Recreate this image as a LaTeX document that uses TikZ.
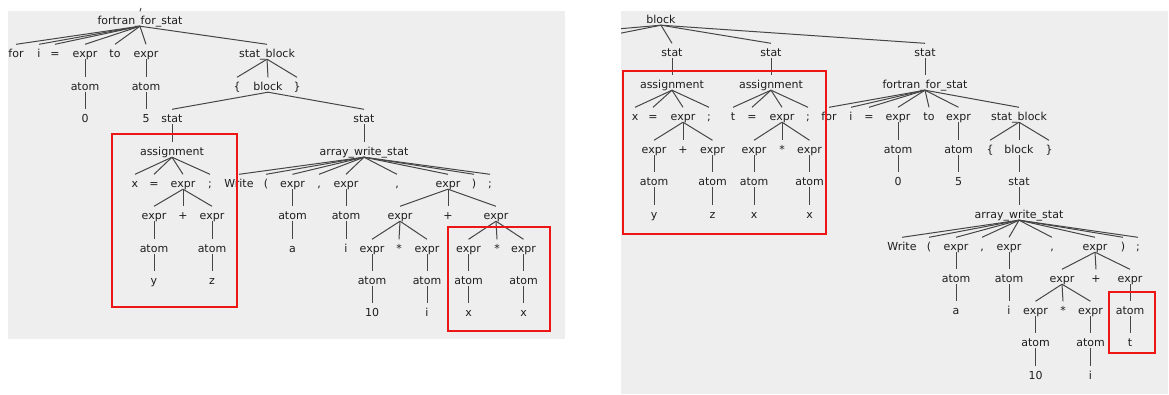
\documentclass[tikz,border=0pt]{standalone}
\usepackage{fontspec}
\setmainfont{DejaVu Sans}
\definecolor{bg}{HTML}{EEEEEE}
\definecolor{txt}{HTML}{1E1E1E}
\definecolor{edge}{HTML}{464646}
\definecolor{hlred}{HTML}{EE1515}
\tikzset{
  t/.style={anchor=base, yshift=-4pt, text height=12pt, text depth=1.5pt,
    inner xsep=1pt, inner ysep=0.5pt, font=\fontsize{11}{13}\selectfont, text=txt},
  e/.style={draw=edge, line width=1pt},
  hl/.style={draw=hlred, line width=1.6pt},
  panel/.style={fill=bg, draw=none}
}
\newcommand\tedges[2]{\foreach \c in {#2}{\draw[e] (#1.south) -- (\c.north);}}
\begin{document}
\begin{tikzpicture}[x=1pt,y=-1pt]
\useasboundingbox (0,0) rectangle (1169,394);
\fill[panel] (8,11) rectangle (565,339);
\fill[panel] (621,11) rectangle (1168,394);

% ---------------- left tree ----------------
\node[t] (L0) at (140,20) {fortran\_for\_stat};
\coordinate (Ltop) at (141,8);
\node[t] (Lfor) at (16,53) {for};
\node[t] (Li) at (39,53) {i};
\node[t] (Leq) at (55,53) {=};
\node[t] (Le1) at (85,53) {expr};
\node[t] (Lto) at (115,53) {to};
\node[t] (Le2) at (146,53) {expr};
\node[t] (Lsb) at (267,53) {stat\_block};
\node[t] (La1) at (85,86) {atom};
\node[t] (La2) at (146,86) {atom};
\node[t] (Llb) at (237,86) {\{};
\node[t] (Lblk) at (268,86) {block};
\node[t] (Lrb) at (297,86) {\}};
\node[t] (L0v) at (85,118) {0};
\node[t] (L5v) at (146,118) {5};
\node[t] (Ls1) at (172,118) {stat};
\node[t] (Ls2) at (364,118) {stat};
\node[t] (Lasg) at (172,151) {assignment};
\node[t] (Laws) at (364,151) {array\_write\_stat};
\node[t] (Lx) at (135,183) {x};
\node[t] (Leq2) at (154,183) {=};
\node[t] (Lex) at (183,183) {expr};
\node[t] (Lsc) at (210,183) {;};
\node[t] (LW) at (239,183) {Write};
\node[t] (Llp) at (266,183) {(};
\node[t] (Lwe1) at (292.5,183) {expr};
\node[t] (Lcm1) at (319,183) {,};
\node[t] (Lwe2) at (346,183) {expr};
\node[t] (Lcm2) at (397,183) {,};
\node[t] (Lwe3) at (448,183) {expr};
\node[t] (Lrp) at (474,183) {)};
\node[t] (Lsc2) at (490,183) {;};
\node[t] (Lex1) at (154,215) {expr};
\node[t] (Lpl) at (183,215) {+};
\node[t] (Lex2) at (212,215) {expr};
\node[t] (Lwa1) at (292.5,215) {atom};
\node[t] (Lwa2) at (346,215) {atom};
\node[t] (Lm1) at (400,215) {expr};
\node[t] (Lpl2) at (448,215) {+};
\node[t] (Lm2) at (496,215) {expr};
\node[t] (Laa1) at (154,248) {atom};
\node[t] (Laa2) at (212,248) {atom};
\node[t] (Lav) at (292.5,248) {a};
\node[t] (Liv) at (346,248) {i};
\node[t] (Lm1a) at (372,248) {expr};
\node[t] (Lst1) at (399,248) {*};
\node[t] (Lm1b) at (427,248) {expr};
\node[t] (Lm2a) at (468.5,248) {expr};
\node[t] (Lst2) at (497,248) {*};
\node[t] (Lm2b) at (523.5,248) {expr};
\node[t] (Ly) at (154,280) {y};
\node[t] (Lz) at (212,280) {z};
\node[t] (Lq1) at (372,280) {atom};
\node[t] (Lq2) at (427,280) {atom};
\node[t] (Lq3) at (468.5,280) {atom};
\node[t] (Lq4) at (523.5,280) {atom};
\node[t] (L10) at (372,312) {10};
\node[t] (Li2) at (427,312) {i};
\node[t] (Lx1) at (468.5,312) {x};
\node[t] (Lx2) at (523.5,312) {x};

\draw[e] (L0.north) -- (Ltop);
\tedges{L0}{Lfor,Li,Leq,Le1,Lto,Le2,Lsb}
\tedges{Le1}{La1}
\tedges{Le2}{La2}
\tedges{La1}{L0v}
\tedges{La2}{L5v}
\tedges{Lsb}{Llb,Lblk,Lrb}
\tedges{Lblk}{Ls1,Ls2}
\tedges{Ls1}{Lasg}
\tedges{Ls2}{Laws}
\tedges{Lasg}{Lx,Leq2,Lex,Lsc}
\tedges{Laws}{LW,Llp,Lwe1,Lcm1,Lwe2,Lcm2,Lwe3,Lrp,Lsc2}
\tedges{Lex}{Lex1,Lpl,Lex2}
\tedges{Lex1}{Laa1}
\tedges{Lex2}{Laa2}
\tedges{Laa1}{Ly}
\tedges{Laa2}{Lz}
\tedges{Lwe1}{Lwa1}
\tedges{Lwe2}{Lwa2}
\tedges{Lwa1}{Lav}
\tedges{Lwa2}{Liv}
\tedges{Lwe3}{Lm1,Lpl2,Lm2}
\tedges{Lm1}{Lm1a,Lst1,Lm1b}
\tedges{Lm2}{Lm2a,Lst2,Lm2b}
\tedges{Lm1a}{Lq1}
\tedges{Lm1b}{Lq2}
\tedges{Lm2a}{Lq3}
\tedges{Lm2b}{Lq4}
\tedges{Lq1}{L10}
\tedges{Lq2}{Li2}
\tedges{Lq3}{Lx1}
\tedges{Lq4}{Lx2}

\draw[hl] (112,134) rectangle (237,307);
\draw[hl] (448,227) rectangle (550,331);

% ---------------- right tree ----------------
\node[t] (Rblk) at (661,19) {block};
\coordinate (Rc1) at (444,44);
\coordinate (Rc2) at (566,44);
\node[t] (Rs1) at (672,52) {stat};
\node[t] (Rs2) at (771,52) {stat};
\node[t] (Rs3) at (925,52) {stat};
\node[t] (Ra1) at (672,84) {assignment};
\node[t] (Ra2) at (771,84) {assignment};
\node[t] (Rffs) at (925,84) {fortran\_for\_stat};
\node[t] (Rx) at (635,116) {x};
\node[t] (Req1) at (653,116) {=};
\node[t] (Rex1) at (683,116) {expr};
\node[t] (Rsc1) at (709,116) {;};
\node[t] (Rt) at (733,116) {t};
\node[t] (Req2) at (752,116) {=};
\node[t] (Rex2) at (782,116) {expr};
\node[t] (Rsc2) at (808,116) {;};
\node[t] (Rfor) at (829,116) {for};
\node[t] (Ri) at (851,116) {i};
\node[t] (Req3) at (869,116) {=};
\node[t] (Rfe1) at (898,116) {expr};
\node[t] (Rto) at (929,116) {to};
\node[t] (Rfe2) at (958.5,116) {expr};
\node[t] (Rsb) at (1019,116) {stat\_block};
\node[t] (Rpe1) at (654,149) {expr};
\node[t] (Rpl) at (683,149) {+};
\node[t] (Rpe2) at (712.5,149) {expr};
\node[t] (Rme1) at (754,149) {expr};
\node[t] (Rst) at (782,149) {*};
\node[t] (Rme2) at (809.5,149) {expr};
\node[t] (Rfa1) at (898,149) {atom};
\node[t] (Rfa2) at (958.5,149) {atom};
\node[t] (Rlb) at (990,149) {\{};
\node[t] (Rblk2) at (1019,149) {block};
\node[t] (Rrb) at (1049,149) {\}};
\node[t] (Rpa1) at (654,181) {atom};
\node[t] (Rpa2) at (712.5,181) {atom};
\node[t] (Rma1) at (754,181) {atom};
\node[t] (Rma2) at (809.5,181) {atom};
\node[t] (R0v) at (898,181) {0};
\node[t] (R5v) at (958.5,181) {5};
\node[t] (Rs4) at (1019,181) {stat};
\node[t] (Ry) at (654,214) {y};
\node[t] (Rz) at (712.5,214) {z};
\node[t] (Rxa) at (754,214) {x};
\node[t] (Rxb) at (809.5,214) {x};
\node[t] (Raws) at (1019,214) {array\_write\_stat};
\node[t] (RW) at (902,246) {Write};
\node[t] (Rlp) at (929,246) {(};
\node[t] (Rwe1) at (956,246) {expr};
\node[t] (Rcm1) at (982,246) {,};
\node[t] (Rwe2) at (1009,246) {expr};
\node[t] (Rcm2) at (1052,246) {,};
\node[t] (Rwe3) at (1095,246) {expr};
\node[t] (Rrp) at (1123,246) {)};
\node[t] (Rsc3) at (1138,246) {;};
\node[t] (Rwa1) at (956,278) {atom};
\node[t] (Rwa2) at (1009,278) {atom};
\node[t] (Rm1) at (1062,278) {expr};
\node[t] (Rpl2) at (1096,278) {+};
\node[t] (Rm2) at (1130,278) {expr};
\node[t] (Rav) at (956,310) {a};
\node[t] (Riv) at (1009,310) {i};
\node[t] (Rm1a) at (1035.5,310) {expr};
\node[t] (Rst2) at (1063,310) {*};
\node[t] (Rm1b) at (1090.5,310) {expr};
\node[t] (Rm2a) at (1130,310) {atom};
\node[t] (Rq1) at (1035.5,342) {atom};
\node[t] (Rq2) at (1090.5,342) {atom};
\node[t] (Rtv) at (1130,342) {t};
\node[t] (R10) at (1035.5,375) {10};
\node[t] (Ri2) at (1090.5,375) {i};

\begin{scope}
  \clip (621,11) rectangle (1168,394);
  \draw[e] (Rblk.south) -- (Rc1);
  \draw[e] (Rblk.south) -- (Rc2);
\end{scope}
\tedges{Rblk}{Rs1,Rs2,Rs3}
\tedges{Rs1}{Ra1}
\tedges{Rs2}{Ra2}
\tedges{Rs3}{Rffs}
\tedges{Ra1}{Rx,Req1,Rex1,Rsc1}
\tedges{Ra2}{Rt,Req2,Rex2,Rsc2}
\tedges{Rex1}{Rpe1,Rpl,Rpe2}
\tedges{Rex2}{Rme1,Rst,Rme2}
\tedges{Rpe1}{Rpa1}
\tedges{Rpe2}{Rpa2}
\tedges{Rme1}{Rma1}
\tedges{Rme2}{Rma2}
\tedges{Rpa1}{Ry}
\tedges{Rpa2}{Rz}
\tedges{Rma1}{Rxa}
\tedges{Rma2}{Rxb}
\tedges{Rffs}{Rfor,Ri,Req3,Rfe1,Rto,Rfe2,Rsb}
\tedges{Rfe1}{Rfa1}
\tedges{Rfe2}{Rfa2}
\tedges{Rfa1}{R0v}
\tedges{Rfa2}{R5v}
\tedges{Rsb}{Rlb,Rblk2,Rrb}
\tedges{Rblk2}{Rs4}
\tedges{Rs4}{Raws}
\tedges{Raws}{RW,Rlp,Rwe1,Rcm1,Rwe2,Rcm2,Rwe3,Rrp,Rsc3}
\tedges{Rwe1}{Rwa1}
\tedges{Rwe2}{Rwa2}
\tedges{Rwa1}{Rav}
\tedges{Rwa2}{Riv}
\tedges{Rwe3}{Rm1,Rpl2,Rm2}
\tedges{Rm1}{Rm1a,Rst2,Rm1b}
\tedges{Rm2}{Rm2a}
\tedges{Rm1a}{Rq1}
\tedges{Rm1b}{Rq2}
\tedges{Rm2a}{Rtv}
\tedges{Rq1}{R10}
\tedges{Rq2}{Ri2}

\draw[hl] (623,71) rectangle (826,234);
\draw[hl] (1109,292) rectangle (1155,353);
\end{tikzpicture}
\end{document}
